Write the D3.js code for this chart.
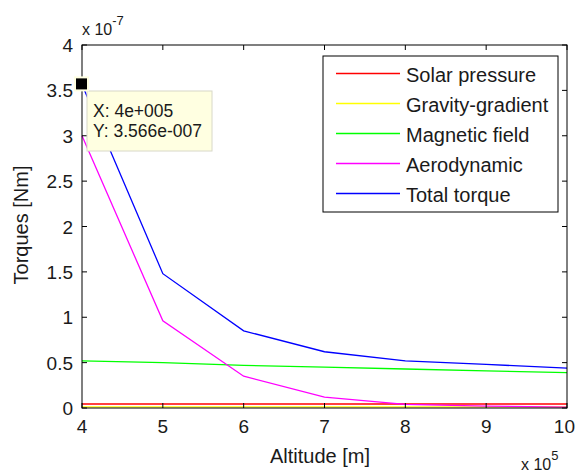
<!DOCTYPE html>
<html><head><meta charset="utf-8">
<script src="https://cdn.jsdelivr.net/npm/d3@7"></script>
<style>body{margin:0;background:#fff;} text{font-family:"Liberation Sans",Arial,sans-serif;}</style>
</head><body><svg id="c" width="576" height="473"></svg>
<script>
const altitudes = [4, 5, 6, 7, 8, 9, 10]; // x 10^5 m
const solarPressure = [0.044, 0.044, 0.044, 0.044, 0.044, 0.044, 0.044];
const gravityGradient = [0.012, 0.012, 0.012, 0.012, 0.012, 0.012, 0.012];
const magneticField = [0.52, 0.50, 0.47, 0.45, 0.43, 0.41, 0.39];
const aerodynamic = [3.00, 0.96, 0.35, 0.12, 0.04, 0.02, 0.01];
const totalTorque = [3.566, 1.48, 0.85, 0.62, 0.52, 0.48, 0.44];
const seriesNames = ["Solar pressure", "Gravity-gradient", "Magnetic field", "Aerodynamic", "Total torque"];
const seriesColors = ["#ff0000", "#ffff00", "#00ff00", "#ff00ff", "#0000ff"];
const xTicks = [4, 5, 6, 7, 8, 9, 10];
const yTicks = [0, 0.5, 1, 1.5, 2, 2.5, 3, 3.5, 4];
const yTickLabels = ["0", "0.5", "1", "1.5", "2", "2.5", "3", "3.5", "4"];

const svg = d3.select("#c");
const L = 82, R = 567, T = 45, B = 408;
const x = d3.scaleLinear().domain([4, 10]).range([L, R]);
const y = d3.scaleLinear().domain([0, 4]).range([B, T]);
const series = [solarPressure, gravityGradient, magneticField, aerodynamic, totalTorque];
const ink = "#1a1a1a";

// lines
const line = d3.line().x((d, i) => x(altitudes[i])).y(d => y(d));
series.forEach((s, k) => {
  svg.append("path").attr("d", line(s)).attr("fill", "none")
    .attr("stroke", seriesColors[k]).attr("stroke-width", 1.3);
});

// axes box
svg.append("rect").attr("x", L).attr("y", T).attr("width", R - L).attr("height", B - T)
  .attr("fill", "none").attr("stroke", "#000").attr("stroke-width", 1);

const fs = 19;
// x ticks
xTicks.forEach((v, i) => {
  const px = x(v);
  const last = i === xTicks.length - 1;
  svg.append("line").attr("x1", px).attr("x2", px).attr("y1", B).attr("y2", B - 5).attr("stroke", "#000");
  svg.append("line").attr("x1", px).attr("x2", px).attr("y1", T).attr("y2", T + 5).attr("stroke", "#000");
  svg.append("text").attr("x", last ? 575 : px).attr("y", B + 25)
    .attr("text-anchor", last ? "end" : "middle")
    .attr("font-size", fs).attr("fill", ink).text(String(v));
});
// y ticks
yTicks.forEach((v, i) => {
  const py = y(v);
  svg.append("line").attr("x1", L).attr("x2", L + 5).attr("y1", py).attr("y2", py).attr("stroke", "#000");
  svg.append("line").attr("x1", R).attr("x2", R - 5).attr("y1", py).attr("y2", py).attr("stroke", "#000");
  svg.append("text").attr("x", L - 9).attr("y", py + 7).attr("text-anchor", "end")
    .attr("font-size", fs).attr("fill", ink).text(yTickLabels[i]);
});

// exponents
const e1 = svg.append("text").attr("x", 82).attr("y", 35).attr("font-size", 16).attr("fill", ink);
e1.append("tspan").text("x 10");
e1.append("tspan").attr("dy", -10).attr("font-size", 13).text("-7");
const e2 = svg.append("text").attr("x", 521).attr("y", 470).attr("font-size", 16).attr("fill", ink);
e2.append("tspan").text("x 10");
e2.append("tspan").attr("dy", -10).attr("font-size", 13).text("5");

// axis labels
svg.append("text").attr("x", 320).attr("y", 463).attr("text-anchor", "middle")
  .attr("font-size", 20).attr("fill", ink).text("Altitude [m]");
svg.append("text").attr("transform", `translate(28,225) rotate(-90)`)
  .attr("text-anchor", "middle").attr("font-size", 20).attr("fill", ink).text("Torques [Nm]");

// legend
const lg = svg.append("g");
lg.append("rect").attr("x", 323).attr("y", 56).attr("width", 235).attr("height", 156)
  .attr("fill", "#fff").attr("stroke", "#000");
seriesNames.forEach((n, k) => {
  const ry = 73.5 + k * 30;
  lg.append("line").attr("x1", 336).attr("x2", 400).attr("y1", ry).attr("y2", ry)
    .attr("stroke", seriesColors[k]).attr("stroke-width", 1.3);
  lg.append("text").attr("x", 406).attr("y", ry + 8).attr("font-size", 20).attr("fill", ink).text(n);
});

// datatip
const tipX = altitudes[0], tipY = totalTorque[0];
svg.append("rect").attr("x", 87).attr("y", 91).attr("width", 125).attr("height", 60)
  .attr("fill", "#ffffe1").attr("stroke", "#d8d8c8");
svg.append("text").attr("x", 93).attr("y", 117).attr("font-size", 17.5).attr("fill", ink)
  .text("X: 4e+005");
svg.append("text").attr("x", 93).attr("y", 137).attr("font-size", 17.5).attr("fill", ink)
  .text("Y: 3.566e-007");
svg.append("rect").attr("x", x(tipX) - 7).attr("y", y(tipY) - 7).attr("width", 13).attr("height", 13)
  .attr("fill", "#000").attr("stroke", "#ffffe1").attr("stroke-width", 2);
</script></body></html>
